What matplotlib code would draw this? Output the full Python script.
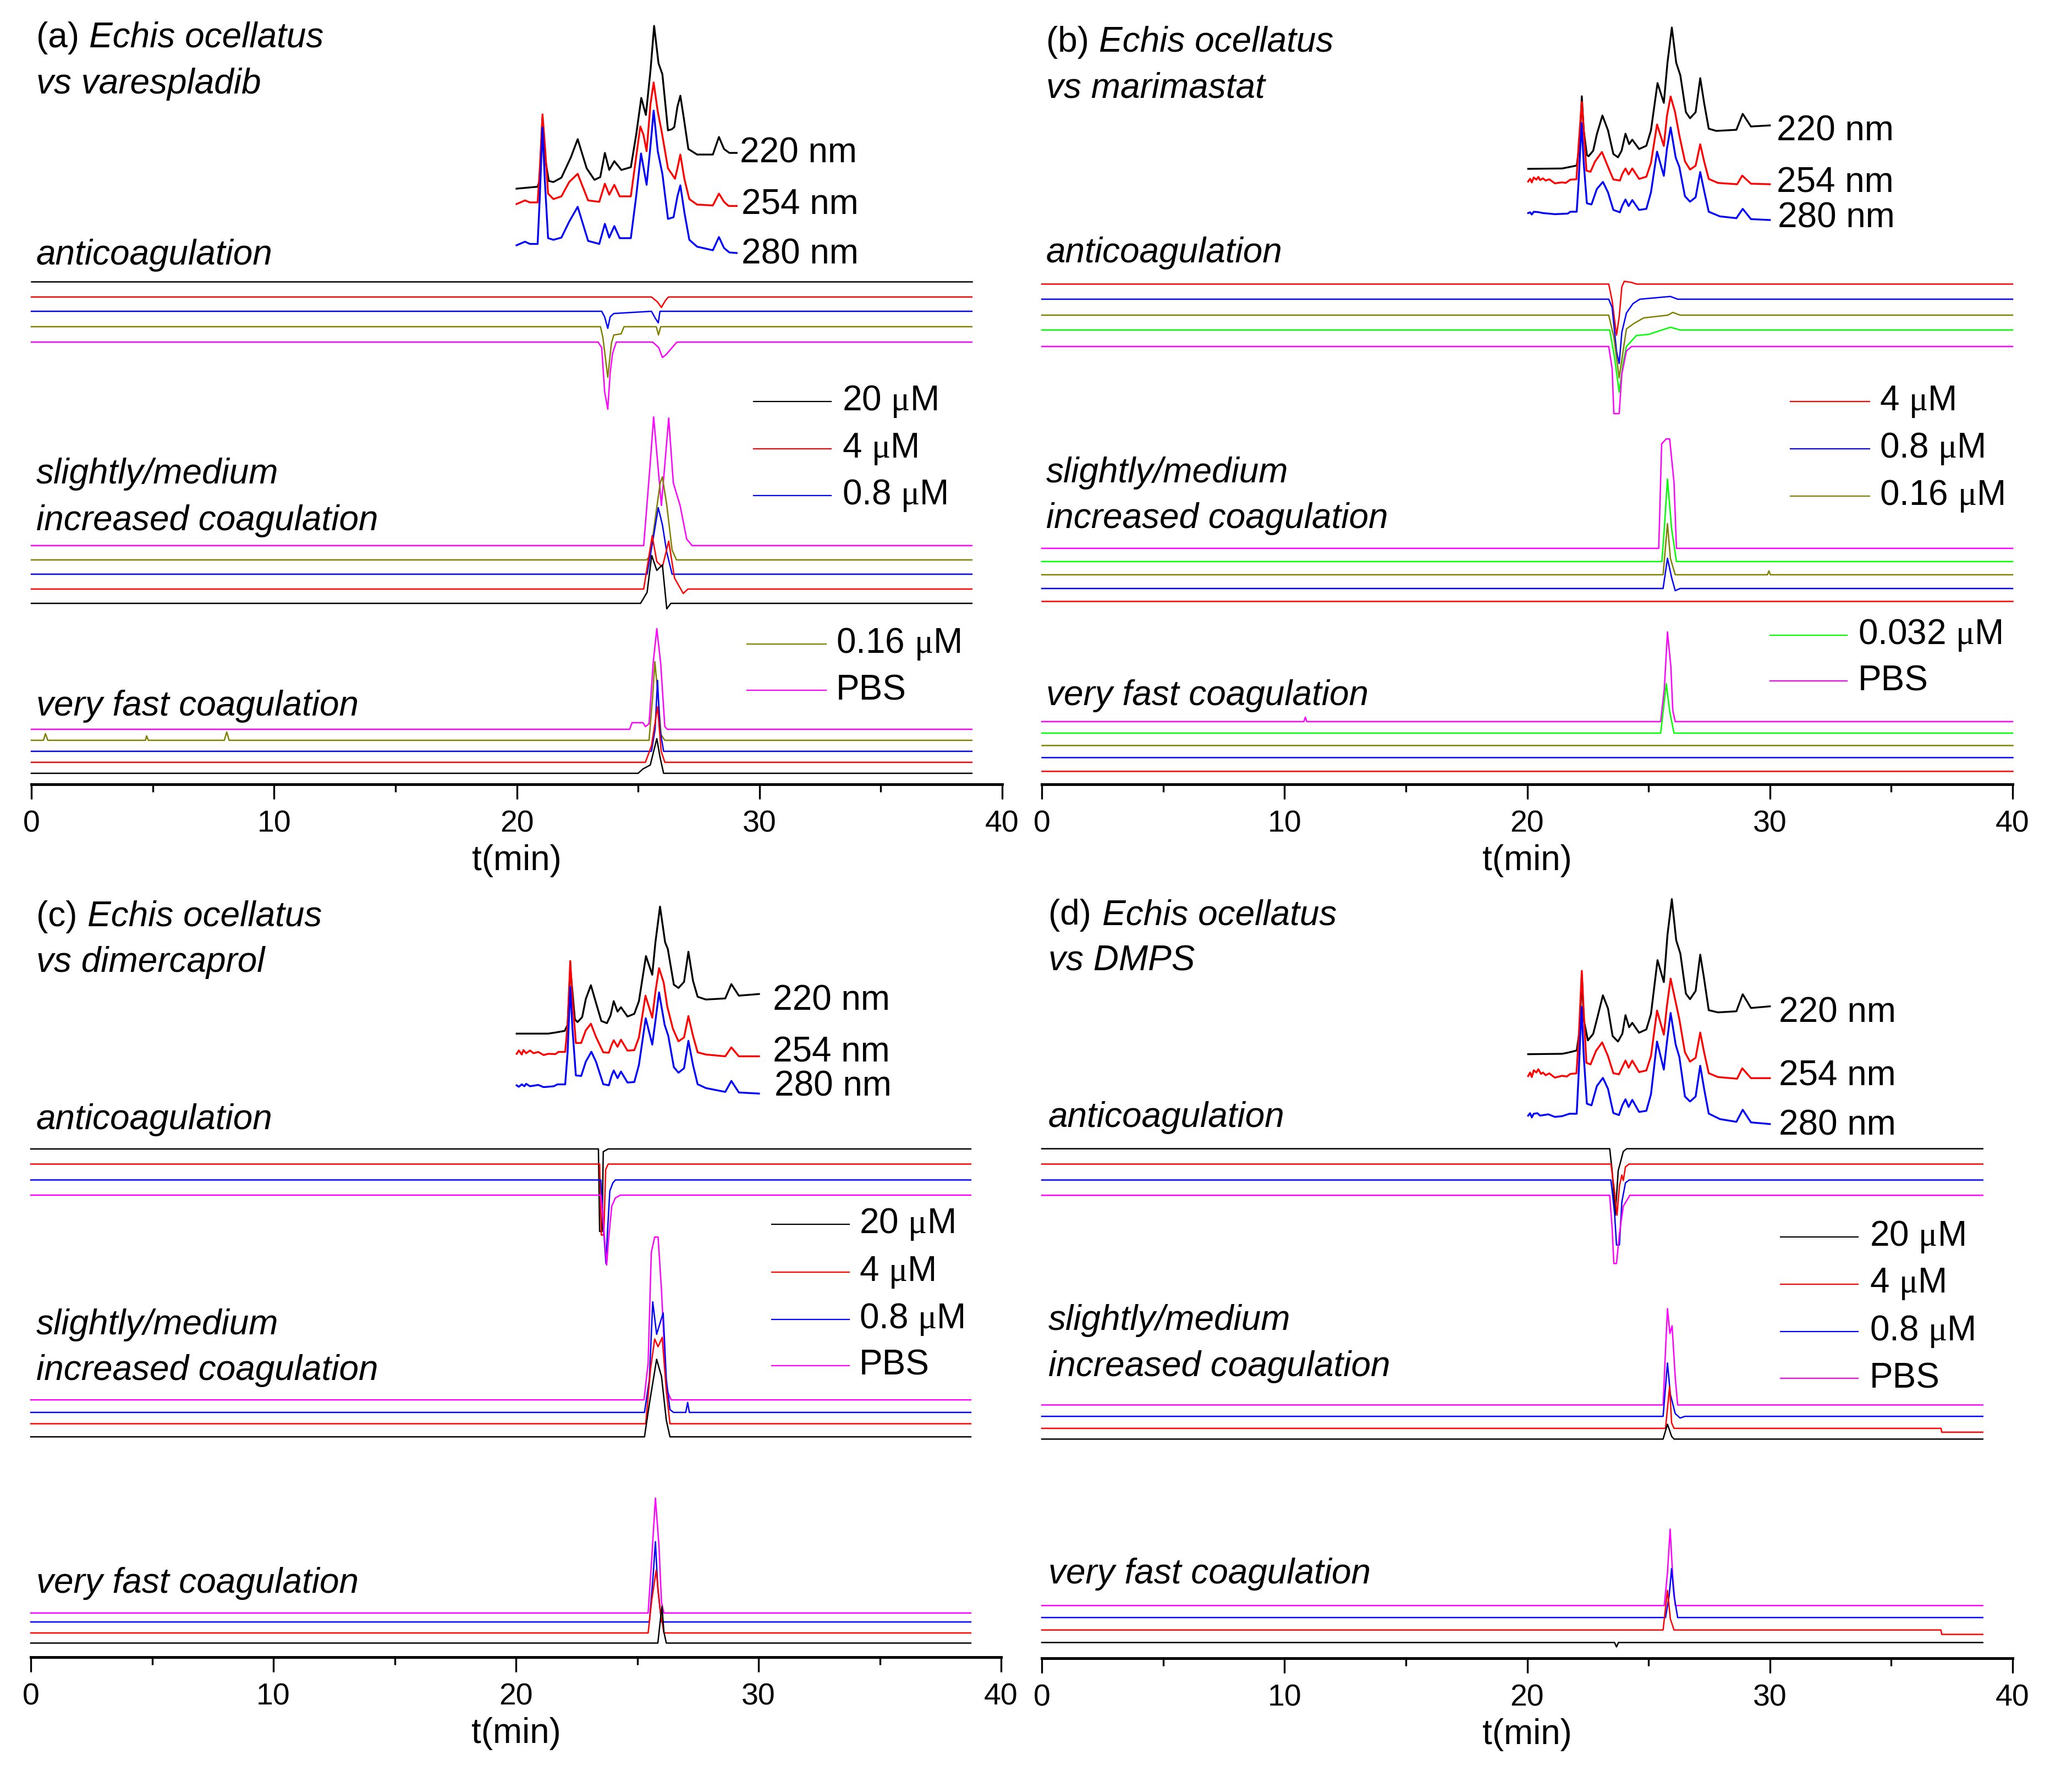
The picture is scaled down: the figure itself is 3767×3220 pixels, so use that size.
import numpy as np
import matplotlib
matplotlib.use("Agg")
import matplotlib.pyplot as plt
from matplotlib.lines import Line2D

W, H, DPI = 3767, 3220, 100
plt.rcParams['font.family'] = ['Liberation Sans', 'DejaVu Sans']
plt.rcParams['mathtext.fontset'] = 'custom'
plt.rcParams['mathtext.rm'] = 'Liberation Serif'
plt.rcParams['mathtext.it'] = 'Liberation Serif:italic'

# ------------------------------------------------------------------ data
# UV chromatograms: (t [min], signal relative to start baseline)
a_uv220 = [(19.99,-1),(20.86,2.5),(20.95,15),(21.06,128),(21.16,56),(21.32,13),(21.51,11),(21.84,19),(22.23,56),(22.51,89),(22.88,36),(23.2,15),(23.44,20),(23.63,64),(23.81,33),(24.02,49),(24.31,33),(24.70,38),(24.92,97),(25.13,164),(25.32,133),(25.51,214),(25.66,295),(25.84,227),(26.0,207),(26.23,105),(26.39,107),(26.49,111),(26.62,148),(26.74,168),(26.88,128),(27.07,71),(27.43,61),(28.08,61),(28.33,93),(28.54,71),(28.76,64),(29.06,64)]
a_uv254 = [(19.99,0),(20.34,6.6),(20.54,3),(20.86,3),(20.95,65),(21.06,163),(21.16,106),(21.29,19),(21.51,9),(21.84,14),(22.16,40),(22.51,55),(22.94,6.6),(23.40,4),(23.63,37),(23.81,17),(24.02,35),(24.24,14),(24.70,14),(24.92,86),(25.09,141),(25.22,126),(25.35,96),(25.51,182),(25.64,221),(25.81,168),(25.97,132),(26.23,65),(26.52,46),(26.62,65),(26.74,90),(26.91,45),(27.11,9),(27.43,-1),(28.08,-2.5),(28.33,19),(28.54,4),(28.73,-3.5),(29.06,-3.5)]
a_uv280 = [(19.99,0),(20.34,6.6),(20.54,2.5),(20.86,2.5),(20.95,89),(21.06,214),(21.16,115),(21.29,13),(21.51,10),(21.84,14),(22.16,43),(22.51,70),(22.94,8),(23.40,2.5),(23.63,39),(23.81,14),(24.02,35),(24.24,13),(24.70,13),(24.92,89),(25.12,167),(25.35,110),(25.51,181),(25.64,245),(25.81,171),(26.0,130),(26.23,48),(26.46,51),(26.62,89),(26.74,109),(26.91,59),(27.11,10),(27.43,-2.5),(28.08,-9),(28.33,15),(28.54,-5),(28.76,-13),(29.06,-14)]

b_uv220 = [(20.04,0),(21.44,0.7),(21.67,2.7),(22.04,6),(22.16,43),(22.25,132),(22.33,70),(22.46,25),(22.53,23),(22.72,33),(22.87,63),(23.10,97),(23.33,70),(23.55,27),(23.74,21),(23.89,33),(24.05,64),(24.20,45),(24.33,53),(24.61,36),(24.91,42),(25.10,70),(25.37,156),(25.63,120),(25.78,193),(25.96,257),(26.14,193),(26.31,170),(26.54,103),(26.71,92),(26.94,103),(27.13,165),(27.29,120),(27.48,73),(27.79,69),(28.62,71),(28.88,100),(29.22,77),(30.0,79)]
b_uv254 = [(20.04,-1.7),(20.12,3.3),(20.19,-3.3),(20.27,5.7),(20.38,1.7),(20.46,6.7),(20.53,1),(20.65,4),(20.76,0),(20.91,2.3),(21.14,-5),(21.44,-3.3),(21.59,-4.3),(21.78,1.7),(22.03,2.3),(22.12,65),(22.25,143),(22.33,92),(22.44,18),(22.61,16),(22.80,35),(23.08,52),(23.33,25),(23.55,2),(23.82,0),(23.92,12),(24.05,22),(24.18,11),(24.33,22),(24.61,3),(24.91,7),(25.10,32),(25.35,102),(25.63,63),(25.76,118),(25.91,153),(26.09,125),(26.27,82),(26.50,35),(26.71,20),(26.94,27),(27.13,66),(27.29,35),(27.48,3),(27.86,-4.3),(28.65,-6.7),(28.86,9),(29.22,-5.7),(30.0,-6.7)]
b_uv280 = [(20.04,-0.7),(20.12,0.7),(20.19,-3.3),(20.27,1.7),(20.46,1),(20.65,-0.7),(21.14,-2.7),(21.67,-1.7),(21.78,1.7),(22.04,1.7),(22.12,57),(22.24,163),(22.33,90),(22.46,17),(22.65,15),(22.87,43),(23.12,56),(23.33,37),(23.55,5),(23.82,0.7),(23.92,13),(24.05,24),(24.18,12),(24.33,23),(24.61,5),(24.91,7),(25.10,37),(25.35,111),(25.63,67),(25.76,117),(25.91,155),(26.12,100),(26.27,83),(26.50,30),(26.71,20),(26.94,28),(27.13,74),(27.29,40),(27.48,1.7),(27.94,-6.7),(28.62,-10),(28.88,7),(29.22,-11.7),(30.0,-13.3)]

c_uv220 = [(20.03,0),(21.33,0),(21.63,2),(22.01,5),(22.13,16),(22.24,119),(22.33,76),(22.43,26),(22.54,21),(22.73,30),(22.88,63),(23.09,88),(23.30,56),(23.52,23),(23.75,19),(23.90,33),(24.03,59),(24.19,40),(24.33,48),(24.60,31),(24.88,36),(25.07,59),(25.36,141),(25.62,107),(25.75,166),(25.94,231),(26.15,166),(26.26,154),(26.51,89),(26.70,83),(26.93,94),(27.11,149),(27.30,96),(27.49,67),(27.83,62),(28.63,64),(28.88,90),(29.19,69),(30.02,72)]
c_uv254 = [(20.03,-2.7),(20.12,3.3),(20.24,-4),(20.31,4),(20.42,-1.7),(20.58,3.3),(20.73,-1.7),(20.92,0.7),(21.14,-5),(21.33,-2.7),(21.63,-3.3),(21.75,0.7),(22.03,0.7),(22.13,50),(22.24,166),(22.33,97),(22.47,17),(22.69,17),(22.88,40),(23.09,52),(23.30,28),(23.60,0),(23.83,-0.7),(23.94,13),(24.03,22),(24.19,10),(24.33,23),(24.60,3),(24.88,4),(25.07,27),(25.34,103),(25.62,63),(25.75,110),(25.90,153),(26.09,127),(26.24,83),(26.47,43),(26.70,20),(26.93,27),(27.11,66),(27.30,30),(27.49,0),(27.83,-4),(28.63,-7.3),(28.88,9),(29.19,-7.3),(30.02,-7.3)]
c_uv280 = [(20.03,0),(20.12,-2.7),(20.24,1.7),(20.35,-1.7),(20.42,2.7),(20.58,-1.7),(20.92,0.7),(21.14,-3.3),(21.56,-1.7),(21.71,1.7),(22.03,1.7),(22.13,60),(22.24,179),(22.33,103),(22.47,18),(22.69,17),(22.88,43),(23.11,61),(23.30,43),(23.60,2),(23.83,0),(23.94,17),(24.03,27),(24.19,13),(24.33,25),(24.60,5),(24.88,6),(25.07,37),(25.35,122),(25.62,74),(25.75,117),(25.90,169),(26.13,110),(26.28,90),(26.51,33),(26.70,23),(26.93,31),(27.11,81),(27.30,37),(27.49,2),(27.83,-5),(28.63,-12),(28.88,8),(29.19,-13),(30.02,-15)]

d_uv220 = [(20.04,0),(21.44,0.7),(21.67,2.7),(22.04,6.7),(22.16,43),(22.25,145),(22.33,63),(22.50,25),(22.72,37),(22.87,63),(23.12,107),(23.33,83),(23.52,33),(23.74,23),(23.92,37),(24.05,71),(24.20,49),(24.33,57),(24.61,39),(24.91,45),(25.10,73),(25.37,171),(25.63,131),(25.78,217),(25.96,282),(26.14,207),(26.31,183),(26.54,110),(26.71,100),(26.94,115),(27.13,181),(27.29,137),(27.48,80),(27.86,76),(28.62,78),(28.88,109),(29.22,84),(30.0,87)]
d_uv254 = [(20.04,-3.3),(20.12,3.3),(20.19,-5),(20.27,7.3),(20.38,3.3),(20.46,9.3),(20.57,0.7),(20.65,3.3),(20.76,-1.7),(20.91,1.7),(21.14,-6),(21.44,-2.7),(21.63,-4),(21.78,0.7),(22.03,1.7),(22.12,63),(22.25,188),(22.33,113),(22.44,21),(22.61,18),(22.84,43),(23.09,58),(23.33,33),(23.55,2),(23.78,0),(23.92,13),(24.05,25),(24.18,12),(24.33,25),(24.61,4),(24.91,7),(25.10,33),(25.35,116),(25.63,72),(25.76,125),(25.91,174),(26.09,137),(26.27,100),(26.50,40),(26.71,23),(26.94,30),(27.13,76),(27.29,40),(27.48,2),(27.86,-5),(28.65,-8),(28.86,11),(29.22,-7),(30.0,-7)]
d_uv280 = [(20.04,-1.7),(20.12,2.7),(20.19,-5),(20.27,1.7),(20.42,2.7),(20.53,-1.7),(20.68,-0.7),(20.87,0.7),(21.14,-4),(21.44,-2.7),(21.74,1.7),(22.04,1.7),(22.12,73),(22.24,196),(22.33,107),(22.46,20),(22.65,17),(22.87,52),(23.12,67),(23.33,47),(23.55,3),(23.78,-0.7),(23.92,17),(24.05,28),(24.18,14),(24.33,27),(24.61,5),(24.91,7),(25.10,37),(25.35,133),(25.63,82),(25.76,133),(25.91,185),(26.12,127),(26.27,105),(26.50,33),(26.71,24),(26.94,33),(27.13,89),(27.29,47),(27.48,2),(27.94,-8),(28.62,-13),(28.88,9),(29.22,-14),(30.0,-17)]

# Coagulation traces: (t [min], signal relative to baseline)
# panel a - varespladib
a_anti_20 = [(0,0),(38.75,0)]
a_anti_4 = [(0,0),(25.55,0),(25.8,-9),(25.96,-19),(26.13,-6),(26.25,0),(38.75,0)]
a_anti_08 = [(0,0),(23.5,0),(23.62,-10),(23.75,-31),(23.85,-10),(24.0,-4),(25.55,0),(25.7,-12),(25.83,-21),(25.9,0),(38.75,0)]
a_anti_016 = [(0,0),(23.45,0),(23.55,-20),(23.75,-92),(23.9,-30),(24.0,-15),(24.3,-13),(24.42,0),(25.75,0),(25.84,-15),(25.93,0),(38.75,0)]
a_anti_pbs = [(0,0),(23.35,0),(23.5,-10),(23.62,-90),(23.75,-122),(23.85,-55),(23.95,-20),(24.1,0),(25.6,0),(25.85,-10),(26.0,-28),(26.15,-23),(26.4,-10),(26.6,0),(38.75,0)]
a_slow_20 = [(0,0),(25.1,0),(25.37,20),(25.56,87),(25.77,60),(26.0,70),(26.18,-10),(26.35,0),(38.75,0)]
a_slow_4 = [(0,0),(25.23,0),(25.58,97),(25.77,50),(26.0,40),(26.26,87),(26.5,20),(26.86,-8),(27.05,0),(38.75,0)]
a_slow_08 = [(0,0),(25.37,0),(25.64,70),(25.83,121),(26.0,90),(26.18,40),(26.4,0),(38.75,0)]
a_slow_016 = [(0,0),(25.35,0),(25.5,8),(25.72,80),(25.91,140),(26.0,151),(26.18,100),(26.4,18),(26.58,0),(38.75,0)]
a_slow_pbs = [(0,0),(25.23,0),(25.5,150),(25.64,234),(25.96,73),(26.26,232),(26.45,114),(26.73,73),(27.0,12),(27.22,0),(38.75,0)]
a_fast_20 = [(0,0),(25.0,0),(25.2,8),(25.5,15),(25.77,63),(25.9,30),(26.05,0),(38.75,0)]
a_fast_4 = [(0,0),(25.3,0),(25.55,30),(25.8,101),(25.95,20),(26.1,0),(38.75,0)]
a_fast_08 = [(0,0),(25.55,0),(25.7,40),(25.8,129),(25.9,40),(26.05,0),(38.75,0)]
a_fast_016 = [(0,0),(0.5,0),(0.58,12),(0.68,0),(4.7,0),(4.75,8),(4.82,0),(7.95,0),(8.05,15),(8.15,0),(25.45,0),(25.6,80),(25.69,143),(25.8,90),(25.95,10),(26.1,0),(38.75,0)]
a_fast_pbs = [(0,0),(24.65,0),(24.75,12),(25.2,12),(25.3,5),(25.45,10),(25.62,120),(25.77,183),(25.93,120),(26.1,5),(26.2,0),(38.75,0)]

# panel b - marimastat
b_anti_4 = [(0,0),(23.36,0),(23.5,-30),(23.68,-93),(23.79,-60),(23.9,-5),(24.0,5),(24.3,3),(24.5,0),(40,0)]
b_anti_08 = [(0,0),(23.36,0),(23.5,-15),(23.68,-95),(23.79,-117),(23.9,-60),(24.09,-25),(24.36,-8),(24.64,0),(25.9,5),(26.2,0),(40,0)]
b_anti_016 = [(0,0),(23.36,0),(23.57,-40),(23.79,-114),(23.9,-80),(24.09,-25),(24.4,-15),(24.8,-5),(25.8,0),(26.0,5),(26.3,0),(40,0)]
b_anti_0032 = [(0,0),(23.4,0),(23.6,-50),(23.79,-113),(23.95,-60),(24.09,-30),(24.5,-10),(25.0,-8),(25.9,5),(26.3,0),(40,0)]
b_anti_pbs = [(0,0),(23.36,0),(23.5,-40),(23.57,-122),(23.79,-122),(23.9,-50),(24.09,-8),(24.3,0),(40,0)]
b_slow_4 = [(0,0),(40,0)]
b_slow_08 = [(0,0),(25.6,0),(25.78,55),(25.95,20),(26.1,-4),(26.3,0),(40,0)]
b_slow_016 = [(0,0),(25.6,0),(25.78,93),(25.9,30),(26.1,0),(29.9,0),(29.96,7),(30.02,0),(40,0)]
b_slow_0032 = [(0,0),(25.55,0),(25.65,60),(25.78,150),(25.95,60),(26.15,0),(40,0)]
b_slow_pbs = [(0,0),(25.42,0),(25.54,190),(25.73,199),(25.87,199),(26.05,120),(26.15,0),(40,0)]
b_fast_4 = [(0,0),(40,0)]
b_fast_08 = [(0,0),(40,0)]
b_fast_016 = [(0,0),(40,0)]
b_fast_0032 = [(0,0),(25.5,0),(25.73,90),(25.87,40),(26.05,0),(40,0)]
b_fast_pbs = [(0,0),(10.8,0),(10.86,8),(10.92,0),(25.5,0),(25.65,60),(25.78,163),(25.92,100),(26.0,20),(26.1,0),(40,0)]

# panel c - dimercaprol
c_anti_20 = [(0,0),(23.4,0),(23.45,-150),(23.55,-150),(23.6,-5),(23.8,0),(38.75,0)]
c_anti_4 = [(0,0),(23.45,0),(23.52,-129),(23.62,-129),(23.7,-10),(23.8,0),(38.75,0)]
c_anti_08 = [(0,0),(23.5,0),(23.6,-80),(23.71,-152),(23.78,-90),(23.87,-20),(24.0,-5),(24.1,0),(38.75,0)]
c_anti_pbs = [(0,0),(23.5,0),(23.62,-60),(23.74,-127),(23.82,-80),(23.95,-20),(24.1,-5),(24.3,0),(38.75,0)]
c_slow_20 = [(0,0),(25.3,0),(25.5,60),(25.8,141),(26.0,110),(26.2,30),(26.35,0),(38.75,0)]
c_slow_4 = [(0,0),(25.35,0),(25.55,100),(25.72,154),(25.86,140),(26.03,157),(26.2,60),(26.35,0),(38.75,0)]
c_slow_08 = [(0,0),(25.3,0),(25.5,60),(25.64,201),(25.8,142),(26.07,181),(26.2,60),(26.35,5),(26.5,0),(27.0,0),(27.08,18),(27.15,0),(38.75,0)]
c_slow_pbs = [(0,0),(25.28,0),(25.45,67),(25.58,268),(25.72,296),(25.86,296),(26.0,200),(26.2,20),(26.4,0),(38.75,0)]
c_fast_20 = [(0,0),(25.85,0),(25.95,40),(26.02,67),(26.1,20),(26.2,0),(38.75,0)]
c_fast_4 = [(0,0),(25.45,0),(25.6,60),(25.78,114),(25.95,40),(26.1,0),(38.75,0)]
c_fast_08 = [(0,0),(25.5,0),(25.65,80),(25.75,146),(25.85,60),(26.0,0),(38.75,0)]
c_fast_pbs = [(0,0),(25.45,0),(25.6,100),(25.75,209),(25.9,120),(26.0,20),(26.1,0),(38.75,0)]

# panel d - DMPS
d_anti_20 = [(0,0),(23.4,0),(23.5,-40),(23.63,-121),(23.75,-40),(23.96,-5),(24.1,0),(38.77,0)]
d_anti_4 = [(0,0),(23.45,0),(23.6,-50),(23.7,-93),(23.8,-40),(23.9,-20),(23.96,-30),(24.05,-5),(24.2,0),(38.77,0)]
d_anti_08 = [(0,0),(23.45,0),(23.6,-60),(23.68,-118),(23.8,-118),(23.9,-40),(24.05,-5),(24.2,0),(38.77,0)]
d_anti_pbs = [(0,0),(23.4,0),(23.5,-60),(23.57,-124),(23.68,-124),(23.8,-70),(23.96,-20),(24.23,0),(38.77,0)]
d_slow_20 = [(0,0),(25.6,0),(25.78,27),(25.95,5),(26.05,0),(38.77,0)]
d_slow_4 = [(0,0),(25.7,0),(25.87,77),(25.95,10),(26.05,0),(37.05,0),(37.08,-7),(38.77,-7)]
d_slow_08 = [(0,0),(25.6,0),(25.78,97),(25.9,40),(26.1,5),(26.3,-3),(26.5,0),(38.77,0)]
d_slow_pbs = [(0,0),(25.6,0),(25.7,100),(25.78,175),(25.88,130),(25.97,144),(26.1,50),(26.2,0),(38.77,0)]
d_fast_20 = [(0,0),(23.6,0),(23.68,-8),(23.76,0),(38.77,0)]
d_fast_4 = [(0,0),(25.6,0),(25.78,72),(25.9,20),(26.05,0),(37.05,0),(37.08,-8),(38.77,-8)]
d_fast_08 = [(0,0),(25.7,0),(25.85,40),(25.95,89),(26.05,40),(26.2,0),(38.77,0)]
d_fast_pbs = [(0,0),(25.65,0),(25.78,60),(25.89,139),(26.0,50),(26.1,0),(38.77,0)]

# labels
uv_labels = ['220 nm', '254 nm', '280 nm']
conc_labels = {'20': '20 $\\mathrm{\\mu}$M', '4': '4 $\\mathrm{\\mu}$M', '0.8': '0.8 $\\mathrm{\\mu}$M',
               '0.16': '0.16 $\\mathrm{\\mu}$M', '0.032': '0.032 $\\mathrm{\\mu}$M', 'PBS': 'PBS'}
panel_titles = [('(a) ', 'Echis ocellatus', 'vs varespladib'),
                ('(b) ', 'Echis ocellatus', 'vs marimastat'),
                ('(c) ', 'Echis ocellatus', 'vs dimercaprol'),
                ('(d) ', 'Echis ocellatus', 'vs DMPS')]
group_labels = ['anticoagulation', 'slightly/medium', 'increased coagulation', 'very fast coagulation']
xticks = [0, 10, 20, 30, 40]

# ------------------------------------------------------------------ style / layout (pixels)
COL = {'20': 'black', '4': 'red', '0.8': 'blue', '0.16': '#808000',
       '0.032': '#00FF00', 'PBS': '#FF00FF'}
UVCOL = ['black', 'red', 'blue']

panels = [
    dict(rect=(57, 1822, 0, 1426),
         uv=[(a_uv220, 1084), (a_uv254, 1055), (a_uv280, 980)],
         uvlab=[(1345, 278), (1348, 372), (1348, 462)],
         traces=[('20', a_anti_20, 914), ('4', a_anti_4, 886), ('0.8', a_anti_08, 860), ('0.16', a_anti_016, 832), ('PBS', a_anti_pbs, 804),
                 ('PBS', a_slow_pbs, 434), ('0.16', a_slow_016, 408), ('0.8', a_slow_08, 382), ('4', a_slow_4, 355), ('20', a_slow_20, 329),
                 ('PBS', a_fast_pbs, 100), ('0.16', a_fast_016, 80), ('0.8', a_fast_08, 60), ('4', a_fast_4, 40), ('20', a_fast_20, 20)],
         title=(66, 162, 69, 153),
         groups=[(66, 464), (66, 862), (66, 947), (66, 1284)],
         legend=[('20', 1370, 1511, 1531, 730), ('4', 1370, 1511, 1531, 816), ('0.8', 1370, 1511, 1531, 901),
                 ('0.16', 1358, 1502, 1520, 1171), ('PBS', 1358, 1502, 1520, 1255)]),
    dict(rect=(1894, 3659, 0, 1426),
         uv=[(b_uv220, 1119), (b_uv254, 1097.7), (b_uv280, 1039.3)],
         uvlab=[(3230, 238), (3230, 333), (3232, 396)],
         traces=[('4', b_anti_4, 909.5), ('0.8', b_anti_08, 882), ('0.16', b_anti_016, 853), ('0.032', b_anti_0032, 826), ('PBS', b_anti_pbs, 796),
                 ('PBS', b_slow_pbs, 429), ('0.032', b_slow_0032, 405), ('0.16', b_slow_016, 381), ('0.8', b_slow_08, 356), ('4', b_slow_4, 333),
                 ('PBS', b_fast_pbs, 114), ('0.032', b_fast_0032, 93), ('0.16', b_fast_016, 71), ('0.8', b_fast_08, 49), ('4', b_fast_4, 24)],
         title=(1902, 1998, 77, 160),
         groups=[(1902, 460), (1902, 860), (1902, 943), (1902, 1265)],
         legend=[('4', 3255, 3399, 3417, 730), ('0.8', 3255, 3399, 3417, 816), ('0.16', 3255, 3399, 3417, 902),
                 ('0.032', 3218, 3358, 3378, 1155), ('PBS', 3218, 3358, 3378, 1238)]),
    dict(rect=(56, 1820, 1600, 3013),
         uv=[(c_uv220, 1133.7), (c_uv254, 1099.7), (c_uv280, 1039.7)],
         uvlab=[(1405, 1819), (1405, 1913), (1408, 1975)],
         traces=[('20', c_anti_20, 924), ('4', c_anti_4, 896.5), ('0.8', c_anti_08, 867.6), ('PBS', c_anti_pbs, 840),
                 ('PBS', c_slow_pbs, 467.8), ('0.8', c_slow_08, 445), ('4', c_slow_4, 424.4), ('20', c_slow_20, 400.6),
                 ('PBS', c_fast_pbs, 80.3), ('0.8', c_fast_08, 64), ('4', c_fast_4, 44), ('20', c_fast_20, 25.6)],
         title=(66, 159, 1667, 1750),
         groups=[(66, 2036), (66, 2409), (66, 2492), (66, 2879)],
         legend=[('20', 1403, 1544, 1562, 2226), ('4', 1403, 1544, 1562, 2313), ('0.8', 1403, 1544, 1562, 2399),
                 ('PBS', 1403, 1544, 1562, 2483)]),
    dict(rect=(1894, 3659, 1600, 3015),
         uv=[(d_uv220, 1098.3), (d_uv254, 1061.7), (d_uv280, 988.3)],
         uvlab=[(3234, 1841), (3234, 1956), (3234, 2046)],
         traces=[('20', d_anti_20, 926.4), ('4', d_anti_4, 898.5), ('0.8', d_anti_08, 869.5), ('PBS', d_anti_pbs, 841.7),
                 ('PBS', d_slow_pbs, 460.5), ('0.8', d_slow_08, 439.8), ('4', d_slow_4, 418), ('20', d_slow_20, 398.5),
                 ('PBS', d_fast_pbs, 95.8), ('0.8', d_fast_08, 74), ('4', d_fast_4, 51.4), ('20', d_fast_20, 28.6)],
         title=(1906, 2004, 1664, 1747),
         groups=[(1906, 2032), (1906, 2401), (1906, 2485), (1906, 2862)],
         legend=[('20', 3237, 3378, 3399, 2249), ('4', 3237, 3378, 3399, 2335), ('0.8', 3237, 3378, 3399, 2421),
                 ('PBS', 3237, 3378, 3399, 2506)]),
]

FS = 46
fig = plt.figure(figsize=(W / DPI, H / DPI), dpi=DPI)


def fx(x):
    return x / W


def fy(y):
    return 1 - y / H


def ftext(x, y, s, **kw):
    kw.setdefault('fontsize', FS)
    kw.setdefault('va', 'center')
    kw.setdefault('ha', 'left')
    fig.text(fx(x), fy(y), s, **kw)


for p, (pre, spec, vs) in zip(panels, panel_titles):
    l, r, top, bot = p['rect']
    ax = fig.add_axes([fx(l), fy(bot), (r - l) / W, (bot - top) / H])
    ax.set_xlim(0, 40)
    ax.set_ylim(0, bot - top)
    for s in ('left', 'right', 'top'):
        ax.spines[s].set_visible(False)
    ax.spines['bottom'].set_linewidth(3.6)
    ax.set_yticks([])
    ax.set_xticks(xticks)
    ax.set_xticklabels([str(v) for v in xticks])
    ax.set_xticks([5, 15, 25, 35], minor=True)
    ax.tick_params(axis='x', which='major', direction='out', length=19.5, width=2.4,
                   labelsize=40, pad=14)
    ax.tick_params(axis='x', which='minor', direction='out', length=10, width=2.4)
    ax.patch.set_visible(False)

    for (data, off), c in zip(p['uv'], UVCOL):
        arr = np.array(data, dtype=float)
        ax.plot(arr[:, 0], arr[:, 1] + off, color=c, lw=2.4, clip_on=False,
                solid_joinstyle='round')
    for key, data, off in p['traces']:
        arr = np.array(data, dtype=float)
        ax.plot(arr[:, 0], arr[:, 1] + off, color=COL[key], lw=1.8, clip_on=False,
                solid_joinstyle='round')

    # x label
    ftext((l + r) / 2, bot + 139, 't(min)', ha='center')
    # titles
    tx0, tx1, ty0, ty1 = p['title']
    ftext(tx0, ty0, pre.strip())
    ftext(tx1, ty0, spec, style='italic')
    ftext(tx0, ty1, vs, style='italic')
    for (gx, gy), g in zip(p['groups'], group_labels):
        ftext(gx, gy, g, style='italic')
    for (ux, uy), s in zip(p['uvlab'], uv_labels):
        ftext(ux, uy, s)
    for key, x0, x1, xt, y in p['legend']:
        fig.add_artist(Line2D([fx(x0), fx(x1)], [fy(y), fy(y)], color=COL[key], lw=1.6,
                              transform=fig.transFigure))
        ftext(xt, y, conc_labels[key])

fig.savefig('out.png', dpi=DPI)
